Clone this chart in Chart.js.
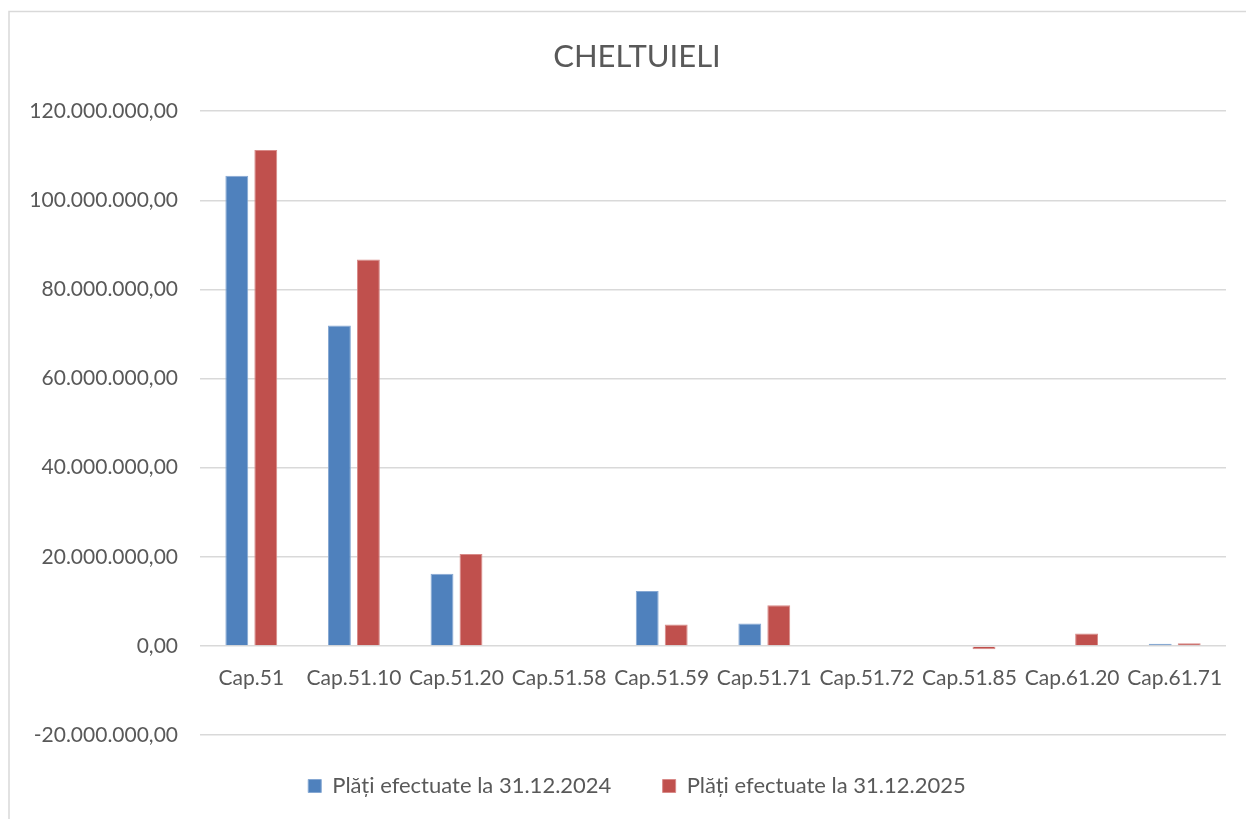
<!DOCTYPE html>
<html>
<head>
<meta charset="utf-8">
<script src="https://cdn.jsdelivr.net/npm/chart.js@4/dist/chart.umd.min.js"></script>
<style>
html,body{margin:0;padding:0;background:#fff;}
#wrap{position:absolute;left:0;top:0;width:1246px;height:819px;}
</style>
</head>
<body>
<div id="wrap"><canvas id="c" width="1246" height="819"></canvas></div>
<script>
const categories = ["Cap.51","Cap.51.10","Cap.51.20","Cap.51.58","Cap.51.59","Cap.51.71","Cap.51.72","Cap.51.85","Cap.61.20","Cap.61.71"];
const plati2024 = [105500000, 71900000, 16200000, 0, 12300000, 5000000, 0, 0, 0, 500000];
const plati2025 = [111300000, 86700000, 20600000, 0, 4800000, 9100000, 0, -750000, 2800000, 600000];
const seriesNames = ["Plăți efectuate la 31.12.2024", "Plăți efectuate la 31.12.2025"];
const yMin = -20000000, yMax = 120000000, yStep = 20000000;
const chartTitle = "CHELTUIELI";

const FONT = "Lato";
const TXT = "#595959";

function fmt(v){
  const neg = v < 0;
  const s = Math.abs(Math.round(v)).toString().replace(/\B(?=(\d{3})+(?!\d))/g, '.');
  return (neg ? '-' : '') + s + ',00';
}

const frame = {
  id: 'frame',
  beforeDraw(chart){
    const ctx = chart.ctx;
    ctx.save();
    ctx.fillStyle = '#fff';
    ctx.fillRect(0,0,chart.width,chart.height);
    ctx.strokeStyle = '#d9d9d9';
    ctx.lineWidth = 1.5;
    ctx.beginPath();
    ctx.moveTo(9, chart.height);
    ctx.lineTo(9, 11.5);
    ctx.lineTo(chart.width, 11.5);
    ctx.stroke();
    ctx.restore();
  }
};

new Chart(document.getElementById('c'), {
  type: 'bar',
  data: {
    labels: categories,
    datasets: [
      { label: seriesNames[0], data: plati2024, backgroundColor: '#4f81bd', borderColor: '#86a8d3', borderWidth: 1,
        categoryPercentage: 0.565, barPercentage: 0.79 },
      { label: seriesNames[1], data: plati2025, backgroundColor: '#c0504d', borderColor: '#d88a88', borderWidth: 1,
        categoryPercentage: 0.565, barPercentage: 0.79 }
    ]
  },
  options: {
    responsive: false,
    animation: false,
    layout: { padding: { left: 0, right: -28, top: 12, bottom: 12 } },
    plugins: {
      title: {
        display: true, text: chartTitle, color: TXT,
        font: { family: FONT, size: 31, weight: 'normal' },
        padding: { top: 26, bottom: 36 }
      },
      legend: {
        position: 'bottom',
        labels: {
          color: TXT, font: { family: FONT, size: 22 },
          boxWidth: 13, boxHeight: 13, padding: 40,
          generateLabels(chart){
            const items = Chart.defaults.plugins.legend.labels.generateLabels(chart);
            if (items.length) items[0].text = items[0].text + '\u00a0\u00a0';
            return items;
          }
        }
      },
      tooltip: { enabled: false }
    },
    scales: {
      x: {
        position: { y: 0 },
        grid: { display: false, drawTicks: false },
        border: { display: false },
        ticks: { color: TXT, font: { family: FONT, size: 21 }, padding: 20, maxRotation: 0, autoSkip: false }
      },
      y: {
        min: yMin, max: yMax,
        grid: { color: '#d9d9d9', lineWidth: 1.5, drawTicks: false },
        border: { display: false },
        ticks: { stepSize: yStep, color: TXT, font: { family: FONT, size: 21 }, padding: 22, callback: v => fmt(v) },
        afterFit(scale){ scale.width = 200; }
      },
      yRightSpace: {
        type: 'linear', position: 'right', display: true,
        grid: { display: false, drawTicks: false },
        border: { display: false },
        ticks: { display: false },
        afterFit(scale){ scale.width = 48; }
      }
    }
  },
  plugins: [frame]
});
</script>
</body>
</html>
